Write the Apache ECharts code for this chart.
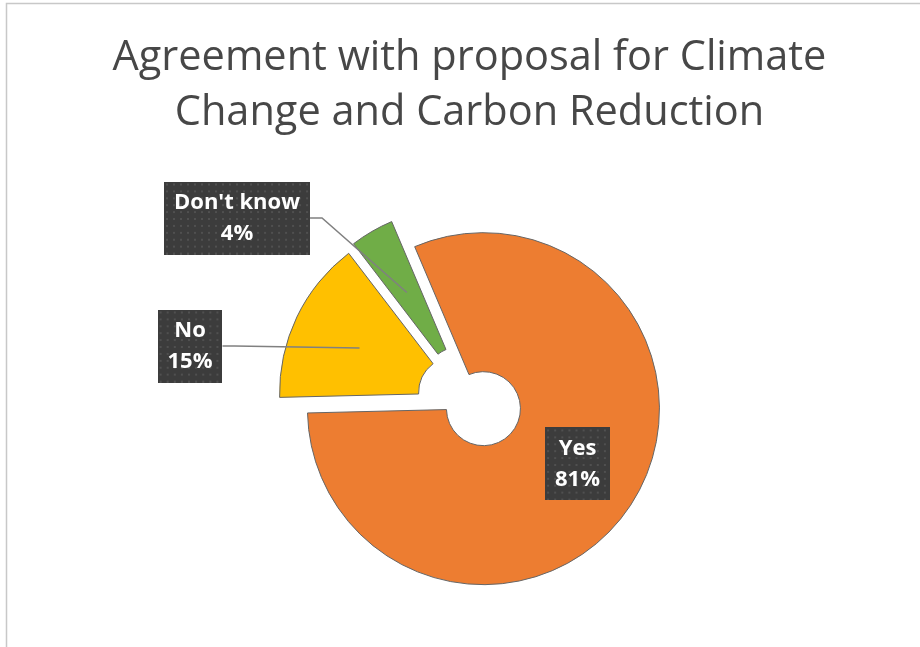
<!DOCTYPE html>
<html><head><meta charset="utf-8">
<script src="https://cdn.jsdelivr.net/npm/echarts@6/dist/echarts.min.js"></script>
<style>html,body{margin:0;padding:0;background:#fff}#c{width:920px;height:647px}</style>
</head><body><div id="c"></div>
<script>
const categories = ['Yes', 'No', "Don't know"];
const values = [81, 15, 4];
const colors = ['#ED7D31', '#FFC000', '#70AD47'];
const titleText = 'Agreement with proposal for Climate\nChange and Carbon Reduction';

// layout settings (not data)
const pieCenter = [470, 400];
const pieRadius = [37, 176];
const startAngle = 113;
const explode = [16, 16, 19];
const labelSpots = { 1: [190, 346], 2: [237, 218] };
const insideShift = { 0: [2, -4] };
const labelPadX = 10;

function dotPattern(w, h) {
  const c = document.createElement('canvas');
  c.width = w; c.height = h;
  const g = c.getContext('2d');
  g.fillStyle = '#3c3c3c'; g.fillRect(0, 0, w, h);
  g.fillStyle = '#505050';
  for (let y = 2; y < h; y += 7) for (let x = 2; x < w; x += 7) g.fillRect(x, y, 2, 2);
  return c;
}
const bigPat = dotPattern(146, 74);
const smallPat = dotPattern(64, 74);

function labelStyle(i) {
  return {
    show: true,
    formatter: '{b}\n{d}%',
    color: '#fff',
    fontFamily: 'Open Sans',
    fontWeight: 'bold',
    fontSize: 22,
    lineHeight: 31,
    align: 'center',
    padding: [6, labelPadX, 5, labelPadX],
    backgroundColor: { image: i === 2 ? bigPat : smallPat },
    shadowBlur: 5,
    shadowOffsetX: 3,
    shadowOffsetY: 3,
    shadowColor: 'rgba(0,0,0,0.45)'
  };
}

const total = values.reduce((a, b) => a + b, 0);
const anchors = [];
let cum = 0;
const series = values.map((v, k) => {
  const mid = (startAngle - (cum + v / 2) * 360 / total) * Math.PI / 180;
  cum += v;
  const c = [pieCenter[0] + Math.cos(mid) * explode[k], pieCenter[1] - Math.sin(mid) * explode[k]];
  const rMid = (pieRadius[0] + pieRadius[1]) / 2;
  anchors.push([c[0] + Math.cos(mid) * rMid, c[1] - Math.sin(mid) * rMid]);
  const inside = !labelSpots[k];
  return {
    type: 'pie',
    z: 2,
    center: c,
    radius: pieRadius,
    startAngle: startAngle,
    clockwise: true,
    avoidLabelOverlap: false,
    emphasis: { scale: false, disabled: true },
    labelLine: { show: false },
    label: { show: false },
    labelLayout: function (p) {
      const sh = insideShift[p.dataIndex];
      return (p.dataIndex === k && sh) ? { dx: sh[0], dy: sh[1] } : {};
    },
    data: categories.map((n, i) => {
      if (i !== k) {
        return { name: n, value: values[i], itemStyle: { color: 'rgba(0,0,0,0)', borderWidth: 0 }, label: { show: false }, labelLine: { show: false } };
      }
      return {
        name: n,
        value: values[i],
        itemStyle: { color: colors[i], borderColor: '#666666', borderWidth: 1 },
        label: inside ? Object.assign(labelStyle(i), { position: 'inside' }) : { show: false },
        labelLine: { show: false }
      };
    })
  };
});

// outside labels: each carried by a tiny transparent pie sitting at its slice's label anchor,
// drawn on a higher z so the leader line runs over the slice to that anchor
Object.keys(labelSpots).forEach(key => {
  const i = +key;
  const s = labelSpots[i];
  const pct = Math.round(values[i] / total * 100) + '%';
  series.push({
    type: 'pie',
    z: 5,
    center: anchors[i],
    radius: [0, 1],
    silent: true,
    avoidLabelOverlap: false,
    emphasis: { scale: false, disabled: true },
    itemStyle: { color: 'rgba(0,0,0,0)', borderWidth: 0 },
    labelLayout: function () {
      return { x: s[0], y: s[1], align: 'center', verticalAlign: 'middle' };
    },
    data: [{
      name: categories[i],
      value: values[i],
      label: Object.assign(labelStyle(i), { position: 'outside', formatter: categories[i] + '\n' + pct }),
      labelLine: { show: true, length: 10, length2: 12, lineStyle: { color: '#808080', width: 1.5 } }
    }]
  });
});

const chart = echarts.init(document.getElementById('c'));
chart.setOption({
  animation: false,
  backgroundColor: '#fff',
  title: {
    text: titleText,
    left: 464.5,
    top: 26,
    textAlign: 'center',
    textStyle: { fontFamily: 'Open Sans', fontSize: 41.5, fontWeight: 'normal', color: '#474747', lineHeight: 55 }
  },
  graphic: [{
    type: 'rect', silent: true,
    shape: { x: 6.5, y: 3.5, width: 1000, height: 1000 },
    style: { fill: 'none', stroke: '#c8c8c8', lineWidth: 1.5 }
  }],
  series: series
});
</script></body></html>
